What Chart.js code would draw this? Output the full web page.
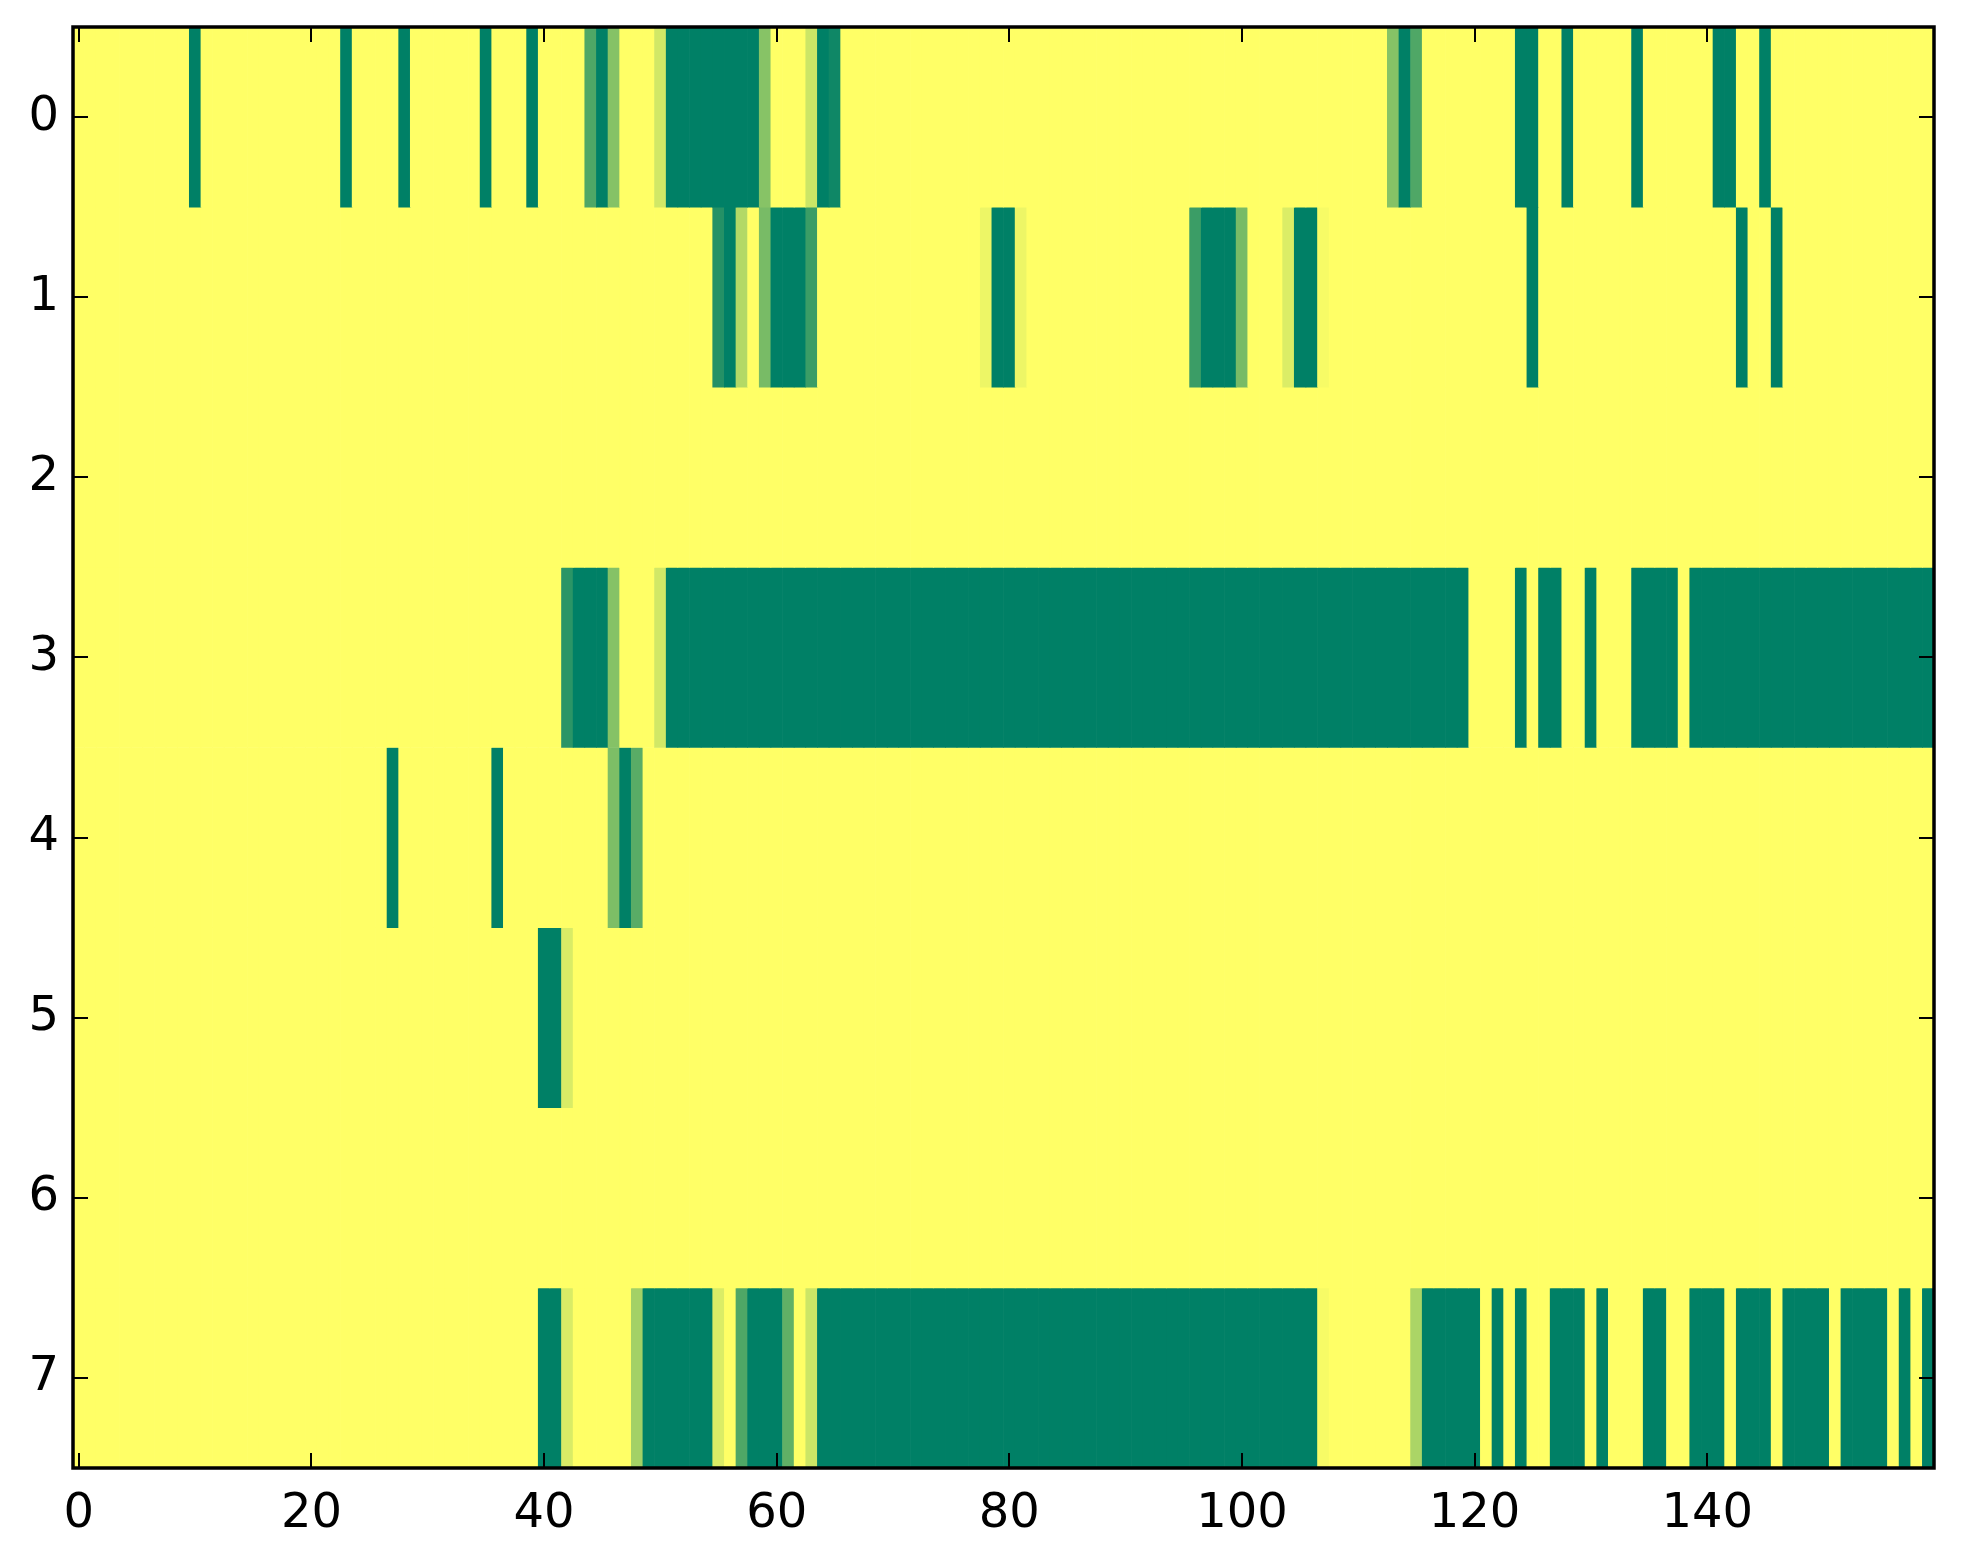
<!DOCTYPE html>
<html>
<head>
<meta charset="utf-8">
<script src="https://cdn.jsdelivr.net/npm/chart.js@4.4.1/dist/chart.umd.min.js"></script>
<style>
html,body{margin:0;padding:0;background:#fff;}
#wrap{width:1963px;height:1564px;position:relative;}
</style>
</head>
<body>
<div id="wrap"><canvas id="c"></canvas></div>
<script>
const xTicks = [0, 20, 40, 60, 80, 100, 120, 140];
const yTicks = [0, 1, 2, 3, 4, 5, 6, 7];

const row0 = [
0,0,0,0,0,0,0,0,0,0,
1,0,0,0,0,0,0,0,0,0,
0,0,0,1,0,0,0,0,1,0,
0,0,0,0,0,1,0,0,0,1,
0,0,0,0,0.69,1,0.48,0,0,0,
0.18,1,1,1,1,1,1,1,1,0.47,
0,0,0,0.2,1,0.94,0,0,0,0,
0,0,0,0,0,0,0,0,0,0,
0,0,0,0,0,0,0,0,0,0,
0,0,0,0,0,0,0,0,0,0,
0,0,0,0,0,0,0,0,0,0,
0,0,0,0.48,1,0.69,0,0,0,0,
0,0,0,0,1,1,0,0,1,0,
0,0,0,0,1,0,0,0,0,0,
0,1,1,0,0,1,0,0,0,0,
0,0,0,0,0,0,0,0,0,0];

const row1 = [
0,0,0,0,0,0,0,0,0,0,
0,0,0,0,0,0,0,0,0,0,
0,0,0,0,0,0,0,0,0,0,
0,0,0,0,0,0,0,0,0,0,
0,0,0,0,0,0,0,0,0,0,
0,0,0,0,0,0.86,1,0.3,0,0.53,
1,1,1,0.77,0,0,0,0,0,0,
0,0,0,0,0,0,0,0,0.07,1,
1,0.07,0,0,0,0,0,0,0,0,
0,0,0,0,0,0,0.77,1,1,1,
0.53,0,0,0,0.14,1,1,0.03,0,0,
0,0,0,0,0,0,0,0,0,0,
0,0,0,0,0,1,0,0,0,0,
0,0,0,0,0,0,0,0,0,0,
0,0,0,1,0,0,1,0,0,0,
0,0,0,0,0,0,0,0,0,0];

const row2 = [
0,0,0,0,0,0,0,0,0,0, 0,0,0,0,0,0,0,0,0,0,
0,0,0,0,0,0,0,0,0,0, 0,0,0,0,0,0,0,0,0,0,
0,0,0,0,0,0,0,0,0,0, 0,0,0,0,0,0,0,0,0,0,
0,0,0,0,0,0,0,0,0,0, 0,0,0,0,0,0,0,0,0,0,
0,0,0,0,0,0,0,0,0,0, 0,0,0,0,0,0,0,0,0,0,
0,0,0,0,0,0,0,0,0,0, 0,0,0,0,0,0,0,0,0,0,
0,0,0,0,0,0,0,0,0,0, 0,0,0,0,0,0,0,0,0,0,
0,0,0,0,0,0,0,0,0,0, 0,0,0,0,0,0,0,0,0,0];

const row3 = [
0,0,0,0,0,0,0,0,0,0,
0,0,0,0,0,0,0,0,0,0,
0,0,0,0,0,0,0,0,0,0,
0,0,0,0,0,0,0,0,0,0,
0,0,0.83,1,1,1,0.48,0,0,0,
0.18,1,1,1,1,1,1,1,1,1,
1,1,1,1,1,1,1,1,1,1,
1,1,1,1,1,1,1,1,1,1,
1,1,1,1,1,1,1,1,1,1,
1,1,1,1,1,1,1,1,1,1,
1,1,1,1,1,1,1,1,1,1,
1,1,1,1,1,1,1,1,1,1,
0,0,0,0,1,0,1,1,0,0,
1,0,0,0,1,1,1,1,0,1,
1,1,1,1,1,1,1,1,1,1,
1,1,1,1,1,1,1,1,1,1];

const row4 = [
0,0,0,0,0,0,0,0,0,0,
0,0,0,0,0,0,0,0,0,0,
0,0,0,0,0,0,0,1,0,0,
0,0,0,0,0,0,1,0,0,0,
0,0,0,0,0,0,0.51,1,0.65,0,
0,0,0,0,0,0,0,0,0,0, 0,0,0,0,0,0,0,0,0,0,
0,0,0,0,0,0,0,0,0,0, 0,0,0,0,0,0,0,0,0,0,
0,0,0,0,0,0,0,0,0,0, 0,0,0,0,0,0,0,0,0,0,
0,0,0,0,0,0,0,0,0,0, 0,0,0,0,0,0,0,0,0,0,
0,0,0,0,0,0,0,0,0,0, 0,0,0,0,0,0,0,0,0,0,
0,0,0,0,0,0,0,0,0,0];

const row5 = [
0,0,0,0,0,0,0,0,0,0,
0,0,0,0,0,0,0,0,0,0,
0,0,0,0,0,0,0,0,0,0,
0,0,0,0,0,0,0,0,0,0,
1,1,0.15,0,0,0,0,0,0,0,
0,0,0,0,0,0,0,0,0,0, 0,0,0,0,0,0,0,0,0,0,
0,0,0,0,0,0,0,0,0,0, 0,0,0,0,0,0,0,0,0,0,
0,0,0,0,0,0,0,0,0,0, 0,0,0,0,0,0,0,0,0,0,
0,0,0,0,0,0,0,0,0,0, 0,0,0,0,0,0,0,0,0,0,
0,0,0,0,0,0,0,0,0,0, 0,0,0,0,0,0,0,0,0,0,
0,0,0,0,0,0,0,0,0,0];

const row6 = [
0,0,0,0,0,0,0,0,0,0, 0,0,0,0,0,0,0,0,0,0,
0,0,0,0,0,0,0,0,0,0, 0,0,0,0,0,0,0,0,0,0,
0,0,0,0,0,0,0,0,0,0, 0,0,0,0,0,0,0,0,0,0,
0,0,0,0,0,0,0,0,0,0, 0,0,0,0,0,0,0,0,0,0,
0,0,0,0,0,0,0,0,0,0, 0,0,0,0,0,0,0,0,0,0,
0,0,0,0,0,0,0,0,0,0, 0,0,0,0,0,0,0,0,0,0,
0,0,0,0,0,0,0,0,0,0, 0,0,0,0,0,0,0,0,0,0,
0,0,0,0,0,0,0,0,0,0, 0,0,0,0,0,0,0,0,0,0];

const row7 = [
0,0,0,0,0,0,0,0,0,0,
0,0,0,0,0,0,0,0,0,0,
0,0,0,0,0,0,0,0,0,0,
0,0,0,0,0,0,0,0,0,0,
1,1,0.15,0,0,0,0,0,0.36,1,
1,1,1,1,1,0.14,0,0.69,1,1,
1,0.62,0,0.2,1,1,1,1,1,1,
1,1,1,1,1,1,1,1,1,1,
1,1,1,1,1,1,1,1,1,1,
1,1,1,1,1,1,1,1,1,1,
1,1,1,1,1,1,1,0.03,0,0,
0,0,0,0,0,0.33,1,1,1,1,
1,0,1,0,1,0,0,1,1,1,
0,1,0,0,0,1,1,0,0,1,
1,1,0,1,1,1,0,1,1,1,
1,0,1,1,1,1,0,1,0,1];

const rows = [row0, row1, row2, row3, row4, row5, row6, row7];

// matplotlib "summer_r" colormap
function summerR(v) {
  const r = Math.round(255 * (1 - v));
  const g = Math.round(255 * (1 - v / 2));
  const b = 102;
  return `rgb(${r},${g},${b})`;
}

const datasets = rows.map((vals, r) => ({
  label: 'row ' + r,
  data: vals.map((v, i) => ({ x: i, y: [r - 0.5, r + 0.5] })),
  backgroundColor: vals.map(summerR),
  borderWidth: 0,
  grouped: false,
  barPercentage: 1,
  categoryPercentage: 1
}));

const PLOT = { left: 73, top: 27, right: 29, bottom: 96 };
const FONT = { family: 'DejaVu Sans', size: 48 };

const frame = {
  id: 'frame',
  afterDatasetsDraw(chart) {
    const { ctx, chartArea: a, scales: { x, y } } = chart;
    ctx.save();
    ctx.strokeStyle = '#000';
    ctx.lineWidth = 2;
    const L = 15;
    ctx.beginPath();
    xTicks.forEach(v => {
      const px = Math.round(x.getPixelForValue(v));
      ctx.moveTo(px, a.bottom); ctx.lineTo(px, a.bottom - L);
      ctx.moveTo(px, a.top); ctx.lineTo(px, a.top + L);
    });
    yTicks.forEach(v => {
      const py = Math.round(y.getPixelForValue(v));
      ctx.moveTo(a.left, py); ctx.lineTo(a.left + L, py);
      ctx.moveTo(a.right, py); ctx.lineTo(a.right - L, py);
    });
    ctx.stroke();
    ctx.lineWidth = 3.5;
    ctx.strokeRect(a.left, a.top, a.right - a.left, a.bottom - a.top);
    ctx.restore();
  }
};

new Chart(document.getElementById('c'), {
  type: 'bar',
  data: { datasets },
  options: {
    responsive: true,
    maintainAspectRatio: false,
    animation: false,
    devicePixelRatio: 1,
    layout: { padding: { top: PLOT.top, right: PLOT.right, left: 0, bottom: 0 } },
    plugins: { legend: { display: false }, tooltip: { enabled: false } },
    scales: {
      x: {
        type: 'linear',
        min: -0.5,
        max: 159.5,
        offset: false,
        grid: { display: false, drawTicks: false },
        border: { display: false },
        afterBuildTicks: s => { s.ticks = xTicks.map(v => ({ value: v })); },
        afterFit: s => { s.height = PLOT.bottom; s.paddingLeft = 0; s.paddingRight = 0; },
        ticks: { color: '#000', font: FONT, padding: 18, maxRotation: 0, autoSkip: false,
                 callback: v => String(v) }
      },
      y: {
        type: 'linear',
        reverse: true,
        min: -0.5,
        max: 7.5,
        grid: { display: false, drawTicks: false },
        border: { display: false },
        afterBuildTicks: s => { s.ticks = yTicks.map(v => ({ value: v })); },
        afterFit: s => { s.width = PLOT.left; s.paddingTop = 0; s.paddingBottom = 0; },
        ticks: { color: '#000', font: FONT, padding: 14, autoSkip: false,
                 callback: v => String(v) }
      }
    }
  },
  plugins: [frame]
});
</script>
</body>
</html>
